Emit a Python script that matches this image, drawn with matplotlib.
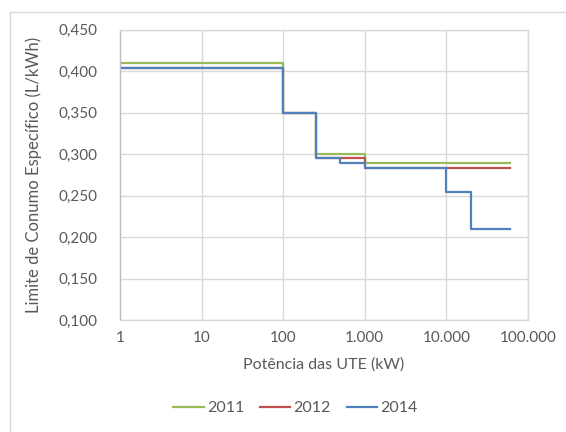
import matplotlib
matplotlib.use("Agg")
import matplotlib.pyplot as plt
from matplotlib.ticker import FixedLocator, FuncFormatter, NullLocator
from matplotlib.lines import Line2D

# Step data (power kW breakpoints, limit L/kWh)
x_2011 = [1, 100, 100, 250, 250, 1000, 1000, 60000]
y_2011 = [0.410, 0.410, 0.350, 0.350, 0.300, 0.300, 0.290, 0.290]

x_2012 = [1, 100, 100, 250, 250, 1000, 1000, 60000]
y_2012 = [0.404, 0.404, 0.350, 0.350, 0.296, 0.296, 0.283, 0.283]

x_2014 = [1, 100, 100, 250, 250, 500, 500, 1000, 1000, 10000, 10000, 20000, 20000, 60000]
y_2014 = [0.404, 0.404, 0.350, 0.350, 0.296, 0.296, 0.289, 0.289, 0.283, 0.283, 0.254, 0.254, 0.210, 0.210]

series_names = ["2011", "2012", "2014"]
x_ticks = [1, 10, 100, 1000, 10000, 100000]
x_tick_labels = ["1", "10", "100", "1.000", "10.000", "100.000"]
y_ticks = [0.100, 0.150, 0.200, 0.250, 0.300, 0.350, 0.400, 0.450]

plt.rcParams['font.family'] = ['Lato', 'DejaVu Sans']
txt = '#595959'
grid_c = '#D9D9D9'
colors = ['#9BBB59', '#C0504D', '#4F81BD']

fig = plt.figure(figsize=(5.66, 4.32), dpi=100)
ax = fig.add_axes([0.212, 0.259, 0.721, 0.672])

ax.plot(x_2011, y_2011, color=colors[0], lw=1.6)
ax.plot(x_2012, y_2012, color=colors[1], lw=1.6)
ax.plot(x_2014, y_2014, color=colors[2], lw=1.6)

ax.set_xscale('log')
ax.set_xlim(1, 100000)
ax.set_ylim(0.100, 0.450)
ax.xaxis.set_major_locator(FixedLocator(x_ticks))
ax.xaxis.set_minor_locator(NullLocator())
ax.set_xticks(x_ticks)
ax.set_xticklabels(x_tick_labels)
ax.set_yticks(y_ticks)
ax.yaxis.set_major_formatter(FuncFormatter(lambda v, p: f"{v:.3f}".replace('.', ',')))

ax.grid(True, color=grid_c, lw=1)
ax.set_axisbelow(True)
for s in ax.spines.values():
    s.set_color(grid_c)
    s.set_linewidth(1)
ax.spines['left'].set_color('#BFBFBF')
ax.tick_params(axis='both', length=0, colors=txt, labelsize=11)
ax.tick_params(axis='y', pad=16)
ax.tick_params(axis='x', pad=8)

ax.set_xlabel("Potência das UTE (kW)", color=txt, fontsize=11.5, labelpad=9)
ax.set_ylabel("Limite de Conumo Específico (L/kWh)", color=txt, fontsize=12, labelpad=12)

handles = [Line2D([0], [0], color=c, lw=1.6) for c in colors]
fig.legend(handles, series_names, loc='center', bbox_to_anchor=(0.522, 0.055),
           ncol=3, frameon=False, fontsize=11.5, labelcolor=txt,
           handlelength=1.9, handletextpad=0.2, columnspacing=1.0)

# outer chart border (top and left visible)
fig.add_artist(Line2D([0.017, 1.0], [0.973, 0.973], color='#D9D9D9', lw=1, transform=fig.transFigure))
fig.add_artist(Line2D([0.017, 0.017], [0.0, 0.973], color='#D9D9D9', lw=1, transform=fig.transFigure))

fig.savefig("out.png", dpi=100)
